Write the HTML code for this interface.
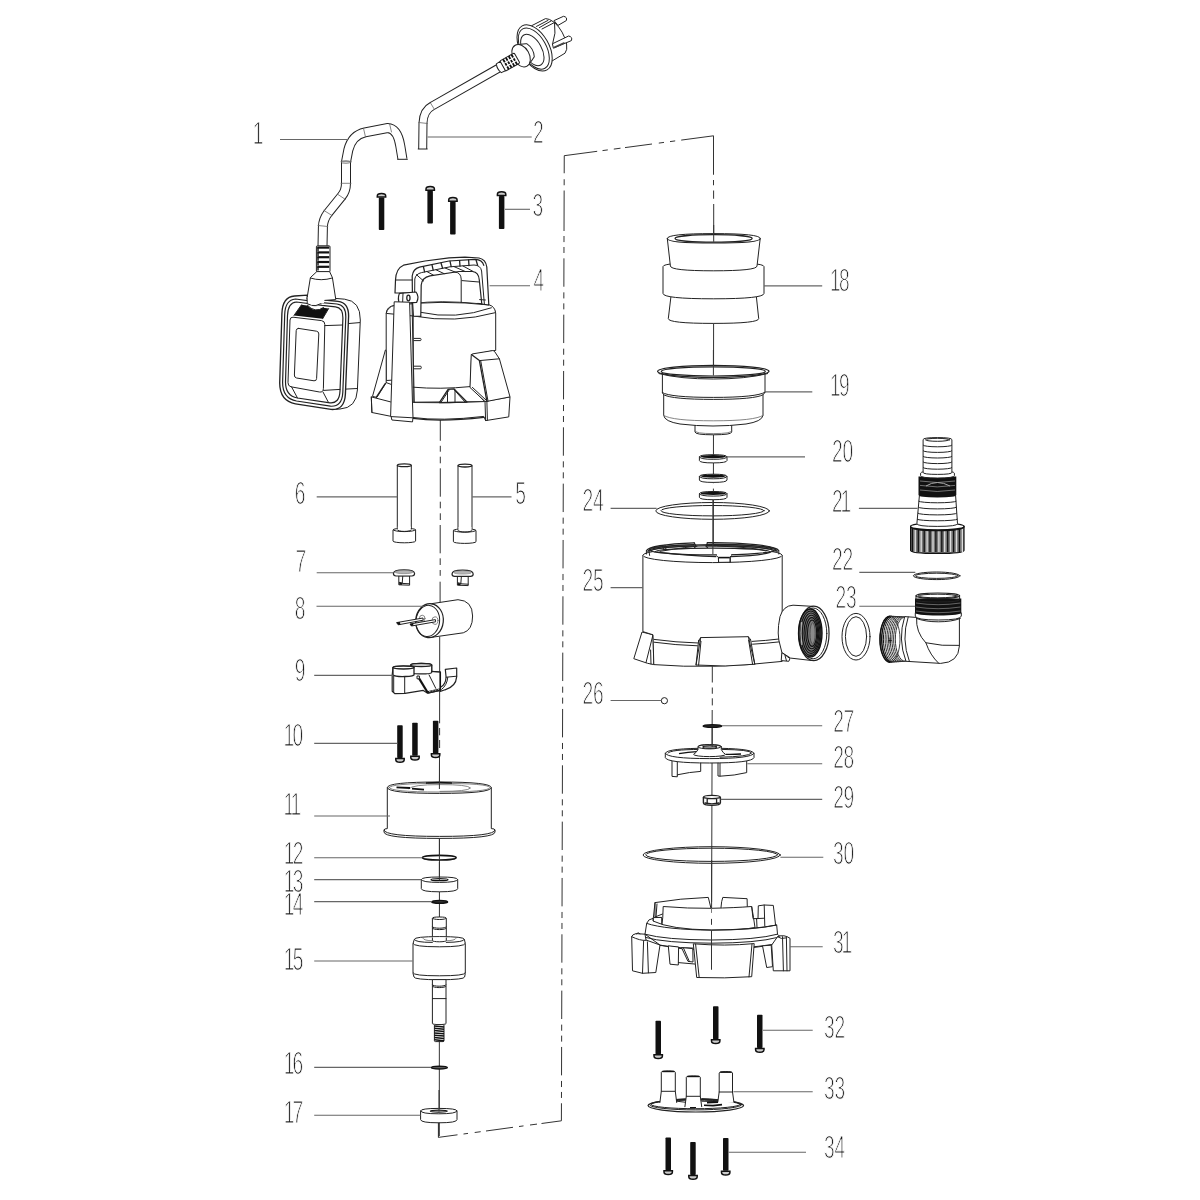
<!DOCTYPE html>
<html><head><meta charset="utf-8"><title>Exploded view</title>
<style>
html,body{margin:0;padding:0;background:#fff;}
body{width:1200px;height:1200px;overflow:hidden;font-family:"Liberation Sans",sans-serif;}
svg{display:block}
.l{fill:none;stroke:#222;stroke-width:1;stroke-linecap:round;stroke-linejoin:round}
.g{fill:none;stroke:#666;stroke-width:0.8;stroke-linecap:round;stroke-linejoin:round}
.w{fill:#fff;stroke:#222;stroke-width:1;stroke-linejoin:round}
.wn{fill:#fff;stroke:none}
.k{fill:#111;stroke:none}
.kk{fill:none;stroke:#111;stroke-width:2.2}
.hd{fill:#ccc;stroke:#111;stroke-width:1.5}
.ld{stroke:#666;stroke-width:1.1;fill:none}
.ax{stroke:#333;stroke-width:1;fill:none}
.dd{stroke:#444;stroke-width:1;fill:none;stroke-dasharray:36 5 5 5}
.t{font-family:"Liberation Sans",sans-serif;font-size:32px;fill:#1a1a1a;stroke:#fff;stroke-width:1.2px;text-rendering:geometricPrecision}
</style></head><body>
<svg width="1200" height="1200" viewBox="0 0 1200 1200">
<rect width="1200" height="1200" fill="#fff"/>
<g id="axes">
<path class="ax" d="M440.3,420 V440.8 M440.3,445.8 V451.7 M440.3,456.7 V463.3 M440.3,468.3 V496.7 M440.3,501.7 V508.3 M440.3,513.3 V520 M440.2,525 V553.3 M440.2,558.3 V565 M440.2,570 V575.8 M440.1,581.7 V604"/>
<path class="ax" d="M439.7,636.7 L439.6,723.3 M439.6,728 V735.3 M439.6,740 V748"/>
<path class="ax" d="M439.5,753.3 L439.3,1136"/>
<path class="ax" d="M438.3,1137.4 L457.5,1134.8 M463.5,1134.0 L468.0,1133.4 M474.7,1132.5 L480.7,1131.7 M486.0,1131.0 L513.0,1127.3 M519.0,1126.5 L523.5,1125.9 M530.0,1125.0 L537.0,1124.1 M541.5,1123.5 L561.4,1120.8"/>
<path class="ax" d="M438.4,1122 V1137.4"/>
<path class="ax" d="M564.25,155.7 L564.2,173.25 M564.18,179.25 L564.16,185.25 M564.15,190.5 L564.03,231"/>
<path class="ax" style="stroke-dasharray:6.1 4.9 6 5.33 28.4 5.6" d="M564.01,236 L561.4,1120.8"/>
<path class="ax" d="M564.2,155.7 L597.2,151.3 M602.5,150.6 L607.8,149.9 M613.8,149.1 L620.5,148.2 M625.0,147.6 L652.0,144.0 M658.8,143.1 L664.0,142.4 M670.0,141.6 L675.2,140.9 M681.2,140.1 L713.5,135.8"/>
<path class="ax" d="M713.5,135.75 V174.75 M713.5,180 V185.25 M713.6,190.5 V198.75 M713.7,204 V241"/>
<path class="ax" d="M713.6,320 L713.2,660"/>
<path class="ax" d="M712.3,660 V682.5 M712.3,687.5 V693.75 M712.3,698.3 V705.4"/>
<path d="M713.3,483.2 V488.6" stroke="#fff" stroke-width="2.4" fill="none"/>
<path class="ax" d="M712.2,710 L711.4,970"/>
</g>
<g id="p2">
<path d="M422.7,149 L423,123 Q423.4,110.5 432.5,105.8 L498,68.5" fill="none" stroke="#222" stroke-width="9"/>
<path d="M422.7,149.6 L423,123 Q423.4,110.5 432.5,105.8 L499,68" fill="none" stroke="#fff" stroke-width="7"/>
<path class="l" d="M418.2,149 H427.2"/>
<path class="g" d="M418.8,122.5 L427.4,123.5 M430.5,103 L434.5,109.5"/>
<path class="w" d="M554,20.6 L563.5,16.3 Q567.6,17 566.3,20.6 L558,25.4 Z"/>
<path class="w" d="M529,27 L534,24.5 L545.5,18.6 L549.4,19.4 L554.5,22.5 Q563.6,31 566.6,44 Q567.6,50 565,53.2 L553,60.4 L544,67 Z"/>
<path class="l" d="M542,29 L554.5,22.5 Q556.4,33 552.6,44 M536.5,26.4 L548,20.4 M539.4,27.6 L551,21"/>
<path class="w" d="M552.4,43.8 L568.6,36 Q572.8,36.8 571.4,40.6 L553.4,48.2 Z"/>
<path d="M554,47.6 L564.5,42.8" stroke="#444" stroke-width="1.6" fill="none"/>
<g transform="rotate(-29.5 534.6 47.9)">
<ellipse class="w" cx="534.6" cy="47.9" rx="14.3" ry="25.3"/>
<ellipse class="l" cx="533.6" cy="48.1" rx="12.4" ry="22.6"/>
<ellipse class="l" cx="531.6" cy="48.6" rx="9.3" ry="17.2"/>
<path class="w" d="M519,36.2 Q526,38 530,40.6 Q533.6,47.9 530,55.4 Q526,58 519,59.8 Z"/>
<ellipse class="w" cx="519" cy="48" rx="8.2" ry="12"/>
<rect class="w" x="497.6" y="42.2" width="16.8" height="11.6" rx="1.5"/>
<path d="M501.6,42.2V53.8 M504.8,42.2V53.8 M508,42.2V53.8 M511.2,42.2V53.8" stroke="#111" stroke-width="1.8" fill="none"/>
<path d="M500.2,46.2 H512.6 M500.2,50 H512.6" stroke="#fff" stroke-width="1.1"/>
<path class="w" d="M493.4,43 L498,42.6 L498,53.4 L493.4,53 Q491.2,48 493.4,43 Z"/>
</g>
</g>
<g id="p1">
<path d="M402.5,159.3 L400.3,146 Q397.5,128.5 387.5,128 L365,132.4 Q352,135.2 348.3,150 L346,162 L346,183 Q346,191 341.6,196.2 L328,213 Q323,219.5 322.9,227 L322.5,246.5" fill="none" stroke="#222" stroke-width="10"/>
<path d="M402.5,159.3 L400.3,146 Q397.5,128.5 387.5,128 L365,132.4 Q352,135.2 348.3,150 L346,162 L346,183 Q346,191 341.6,196.2 L328,213 Q323,219.5 322.9,227 L322.5,246.5" fill="none" stroke="#fff" stroke-width="8"/>
<rect class="wn" x="396" y="159.3" width="13" height="3"/>
<path class="l" d="M397.6,159.3 H407.4"/>
<path class="g" d="M363.5,128.3 L365.5,137 M389.5,123.5 L391.5,132 M341,161.7 H351 M341,183.3 H351 M338,194.5 L345.5,199.5 M324,210.5 L332,215.5 M318,225.5 L327.8,226.5"/>
<ellipse class="g" cx="346" cy="162" rx="4.8" ry="1.3"/>
<rect class="w" x="316.4" y="245.8" width="13.6" height="26.2" rx="1"/>
<path class="kk" d="M317.2,247.6 H329.2"/>
<path class="kk" style="stroke-width:1.4" d="M318,247.6 V251.2"/>
<path class="kk" d="M317.2,252.4 H329.2"/>
<path class="kk" style="stroke-width:1.4" d="M318,252.4 V256.0"/>
<path class="kk" d="M317.2,257.2 H329.2"/>
<path class="kk" style="stroke-width:1.4" d="M318,257.2 V260.8"/>
<path class="kk" d="M317.2,262 H329.2"/>
<path class="kk" style="stroke-width:1.4" d="M318,262 V265.6"/>
<path class="kk" d="M317.2,266.8 H329.2"/>
<path class="kk" style="stroke-width:1.4" d="M318,266.8 V270.40000000000003"/>
<path class="w" d="M324.7,299.5 L335.5,298.4 L344.7,299.2 Q360.5,301 360.3,320 L357.4,390 Q356.5,408 340,409 L332,409.5 Z"/>
<path class="l" d="M326.7,325.4 L359.6,322.6 M324.7,390.2 L357.3,388.5"/>
<path class="w" style="stroke-width:1.35" d="M294.5,296 L307.5,295.2 L307,299 L324.7,300 L338,301.3 Q348.7,302.5 348.6,316 L345.4,394 Q344.6,410.5 331,409.4 L295.5,403.8 Q279.8,401 279.7,383 L281.9,313.5 Q282.5,296.8 294.5,296 Z"/>
<path class="l" style="stroke-width:1.2" d="M295.5,299 L322,302.6 L337,304 Q346,305 345.8,317 L342.8,392.5 Q342,407 330.5,406.2 L296.5,401 Q282.6,398.4 282.6,382.5 L284.7,314.5 Q285.2,299.8 295.5,299 Z"/>
<path class="l" style="stroke-width:1.2" d="M296.5,302 L322,305.4 L335.5,306.8 Q343,307.6 342.9,318 L340,391 Q339.4,403.6 330,402.8 L297.5,398 Q285.4,395.8 285.5,382 L287.5,315.5 Q288,302.6 296.5,302 Z"/>
<path class="w" d="M316.8,271.6 H329.6 L332.4,277.6 L335.8,299.6 L324.6,300.4 Q316,309 307.2,303.6 L307.4,296 L310.4,277.6 Z"/>
<path class="l" d="M310.4,278 Q321,281.5 332.4,278"/>
<path class="wn" d="M307.6,297 L324.4,299.4 L324,303 L308,303 Z"/>
<path class="k" d="M301.5,304.8 L328.6,308.6 L322.6,318.8 L294,315.4 Z"/>
<path class="wn" d="M307.3,305.2 Q315,313.5 323.5,307.6 Z"/>
<path class="l" d="M307.3,305.2 Q315,313.5 323.5,307.6"/>
<path class="w" d="M293,317.2 L321.5,320.6 Q325,321.2 324.8,324.5 L323.4,388.5 Q323.2,392.6 319.5,392 L291,386.8 Q287.8,386 288,382.5 L290,320 Q290.2,317 293,317.2 Z"/>
<path class="l" d="M298.5,328.4 L316.5,331.2 Q319,331.7 318.8,334 L316.6,378.5 Q316.4,381.2 314,380.8 L296.6,378 Q294.2,377.5 294.4,375 L296.2,330.6 Q296.4,328.2 298.5,328.4 Z"/>
<path class="l" d="M324.8,325.6 L342.6,325 M323.6,390.4 L340,389.4"/>
<path class="l" d="M291.5,386.8 L297.5,398 M323,392 L328.5,402.5 M294,315.4 L301.5,304.8 M322.6,318.8 L328.6,308.6"/>
</g>
<g id="p3">
<path class="hd" d="M377.3,197.1 L377.3,195.9 Q377.3,193.4 381.5,193.4 Q385.7,193.4 385.7,195.9 L385.7,197.1 Z"/><rect class="k" x="378.8" y="197.6" width="5.5" height="32.4" rx="0.8"/>
<path class="hd" d="M426.0,190.3 L426.0,189.1 Q426.0,186.6 430.2,186.6 Q434.4,186.6 434.4,189.1 L434.4,190.3 Z"/><rect class="k" x="427.4" y="190.8" width="5.5" height="32.8" rx="0.8"/>
<path class="hd" d="M448.7,201.3 L448.7,200.1 Q448.7,197.6 452.9,197.6 Q457.1,197.6 457.1,200.1 L457.1,201.3 Z"/><rect class="k" x="450.1" y="201.8" width="5.5" height="32.8" rx="0.8"/>
<path class="hd" d="M497.4,195.5 L497.4,194.3 Q497.4,191.8 501.6,191.8 Q505.8,191.8 505.8,194.3 L505.8,195.5 Z"/><rect class="k" x="498.9" y="196.0" width="5.5" height="33.0" rx="0.8"/>
</g>
<g id="p4">
<path class="w" d="M386.2,313.5 Q386.5,306.5 394.5,305.5 L394.5,380 L386.2,380.5 Z"/>
<path class="w" d="M385.4,350 L386.2,350.5 L386.2,382.6 L376.9,397.4 L372.5,396.4 Z"/>
<path class="l" style="stroke-width:1.3" d="M385.2,383.6 L376.4,397.2"/>
<path class="l" d="M386.2,382.6 L391.2,384.4"/>
<path class="w" d="M371.3,396.9 L390.6,401.9 L413.6,402.5 Q450,403.6 485,401.4 L510,396.9 L508.75,416.9 L485.6,420.6 L483.8,416.4 Q441,421.4 413,417.5 L390.6,416.25 L371.9,412.5 Z"/>
<path class="l" style="stroke-width:1.3" d="M413,418.4 Q441,422.2 483.8,417.3"/>
<path class="w" d="M413.2,316 L413.2,402.2 L484.5,401.6 L470.3,386.6 L471.6,355 L493.5,350.6 L495.7,350.5 L495.7,313 Q495,305.5 478,303.6 Q440,300 413.2,303.5 Z"/>
<path class="w" d="M394.5,305.5 Q388,306.5 386.2,313.4 L413.4,316 Q455,323.7 495.6,312.6 Q494.6,306.4 489.5,305 Q440,299.5 394.5,305.5 Z"/>
<path class="l" d="M421,312.4 Q455,320.2 491.4,307.8"/>
<path class="l" d="M413.2,387.2 Q440,389.6 470.3,386.6"/>
<path class="w" style="stroke-width:1.3" d="M439.4,402.6 L448.1,389.4 L453.8,388.8 L466.9,402 Z"/>
<path class="l" d="M447.5,390.4 L447.5,402.6 M455,390.2 L455,402.4 M441,402.4 L449,390.2 M454.4,390 L465,402"/>
<path class="w" d="M471.2,355.6 Q471.4,354 473,353.8 L492.6,350.6 Q494.2,350.6 494.8,351.8 L499.4,358.8 L510,396.9 L486.9,401.4 L485,401.4 L470,387.5 Z"/>
<path class="l" style="stroke-width:1.3" d="M471.4,354.6 L479.4,360.6 L486.9,401.3"/>
<path class="l" d="M479.4,360.6 L499.4,358.8 M480.8,361.2 L488,401 M472.4,387.4 L486.4,400.4 M485,401.4 L485.6,420.6 M486.9,401.4 L487.4,420.2"/>
<path class="l" d="M414,338.4 H420.6 Q421.6,339.5 420.6,340.6 H414 M414,366.2 H420.8 Q421.8,367.5 420.8,368.8 H414"/>
<path class="w" style="stroke-width:1.2" d="M395,293 L395.5,280 Q396,268.4 403.5,265.2 L425,261 L449,257.8 L465,257.2 L479,258 Q485.8,259.4 486.8,267 L488.8,305 L481.8,304 L479.3,280 Q478.6,272 472.5,271.5 L459,271.5 L430,275.8 Q421.8,277.6 421.2,285 L420.8,316.4 L413.4,316 L412,293 Z"/>
<path class="l" style="stroke-width:1.2" d="M412.4,293 L412.2,276 Q413,269 419.5,267.2 L449,261 L475,259.4 Q482.4,259.6 483.8,265.4"/>
<path class="l" d="M414.6,300 L414.8,279 Q415.6,274 421.5,272.6 L450,266.8 L474,265 Q480.6,265.2 481.6,271 L484.4,304.4"/>
<path class="l" style="stroke-width:1.3" d="M423.4,266.6 L424.6,271.8 M432,264.8 L433.2,270.2 M441,263 L442.6,268.2 M450,261.2 L451.2,266.6 M459.6,260.6 L460,266.2 M468.6,260 L469,265.6 M476,259.8 L477.6,265.2"/>
<path class="l" d="M427,271.6 L433.5,275.2 M436,269.8 L444,273.6 M445,268 L455,272 M454,266.6 L465,271.4 M463,266 L473,271.4 M416.4,274.6 L423.6,281"/>
<path class="l" d="M395.5,280 H412.2"/>
<path class="l" d="M455,272 Q461,272.6 461.2,279 L461.2,302.6 M462,280.6 L479.2,282"/>
<path class="l" d="M478,303.4 L482,303.8 M479.6,299.6 L485.4,300"/>
<path class="w" style="stroke-width:1.2" d="M399.4,293.4 L416,292 Q419.6,296.5 416.6,302.4 L399.4,303.6 Q397.4,298.4 399.4,293.4 Z"/>
<ellipse class="l" style="stroke-width:1.3" cx="408.4" cy="298" rx="1.6" ry="2.8"/>
<path class="l" d="M403,293.2 L402.6,303.2"/>
<path class="w" d="M394.2,301.8 L409.6,302.2 L412.4,400 L413,417.5 L412.5,421.9 L391.9,420 L391.2,416.9 L390.6,416.2 Z"/>
<path class="l" d="M412,302.5 L414.3,402.4 M391.2,416.6 L412.8,417.8"/>
<path class="l" d="M371.3,396.9 L371.9,412.5"/>
</g>
<g id="p56">
<path class="w" d="M397.3,465.2 L397.3,529.6 L411.3,529.6 L411.3,465.2 Z"/><ellipse class="w" style="stroke-width:1.3" cx="404.3" cy="465.2" rx="7" ry="1.4"/><path class="w" d="M393,529.9 L393,541.1 A11.300000000000011,1.7 0 0 0 415.6,541.1 L415.6,529.9 A11.300000000000011,1.7 0 0 0 393,529.9 Z"/><path class="l" d="M393,529.9 A11.300000000000011,1.7 0 0 0 415.6,529.9"/><path class="wn" d="M397.8,526.6 H410.8 V530.2 H397.8 Z"/><path class="l" d="M397.3,530.0 A7,1.4 0 0 0 411.3,530.0"/>
<path class="w" d="M458,465.59999999999997 L458,530.2 L472,530.2 L472,465.59999999999997 Z"/><ellipse class="w" style="stroke-width:1.3" cx="465" cy="465.59999999999997" rx="7" ry="1.4"/><path class="w" d="M453.4,530.5 L453.4,541.7 A11.300000000000011,1.7 0 0 0 476,541.7 L476,530.5 A11.300000000000011,1.7 0 0 0 453.4,530.5 Z"/><path class="l" d="M453.4,530.5 A11.300000000000011,1.7 0 0 0 476,530.5"/><path class="wn" d="M458.5,527.2 H471.5 V530.8000000000001 H458.5 Z"/><path class="l" d="M458,530.6 A7,1.4 0 0 0 472,530.6"/>
</g>
<g id="p7">
<path class="w" d="M398.8,575.8 L398.8,584.8 L409.6,585.1999999999999 L409.6,575.8 Z"/><path class="l" d="M402.8,575.8 L402.2,583.4 L409.4,583.8 M399.4,582.4 L402.2,583.0"/><path class="k" d="M399.2,582.5999999999999 L402,583.0999999999999 L402,584.8 L399.2,584.6999999999999 Z"/><path class="w" style="stroke-width:1.2" d="M393.4,573.5999999999999 Q393.4,569.8 404,569.8 Q414.6,569.8 414.6,573.5999999999999 Q414.6,576.0 412,576.0 L396,576.0 Q393.4,576.0 393.4,573.5999999999999 Z"/><ellipse cx="404" cy="572.0" rx="9" ry="1.7" fill="#b5b5b5" stroke="#777" stroke-width="0.6"/>
<path class="w" d="M457.40000000000003,576.1999999999999 L457.40000000000003,585.1999999999999 L468.20000000000005,585.5999999999999 L468.20000000000005,576.1999999999999 Z"/><path class="l" d="M461.40000000000003,576.1999999999999 L460.8,583.8 L468.0,584.1999999999999 M458.0,582.8 L460.8,583.4"/><path class="k" d="M457.8,582.9999999999999 L460.6,583.4999999999999 L460.6,585.1999999999999 L457.8,585.0999999999999 Z"/><path class="w" style="stroke-width:1.2" d="M452.0,573.9999999999999 Q452.0,570.1999999999999 462.6,570.1999999999999 Q473.20000000000005,570.1999999999999 473.20000000000005,573.9999999999999 Q473.20000000000005,576.4 470.6,576.4 L454.6,576.4 Q452.0,576.4 452.0,573.9999999999999 Z"/><ellipse cx="462.6" cy="572.4" rx="9" ry="1.7" fill="#b5b5b5" stroke="#777" stroke-width="0.6"/>
</g>
<g id="p8">
<path class="w" d="M429.3,604 L458,599.7 Q472.5,600.5 472.6,616 Q472.6,630 463.3,632.8 L431,637.4 Z"/>
<ellipse class="w" style="stroke-width:1.2" cx="429.5" cy="620.7" rx="13.8" ry="17" transform="rotate(6 429.5 620.7)"/>
<ellipse class="l" cx="427.8" cy="620.9" rx="11.8" ry="15.6" transform="rotate(6 427.8 620.9)"/>
<ellipse class="g" cx="422.2" cy="618.4" rx="2.8" ry="3.2"/><ellipse class="g" cx="435" cy="620.6" rx="3" ry="3.8"/>
<path class="w" d="M396.6,622.6 L423,618 L423.2,620.2 L398.2,624.8 Z"/>
<path class="w" d="M410,624 L435.4,619.6 L435.6,621.8 L411.4,626 Z"/>
<path class="k" d="M396.6,622.6 L399.8,622 L400.5,624.4 L398.2,624.8 Z M410,624 L413,623.5 L413.6,625.6 L411.4,626 Z"/>
</g>
<g id="p9">
<path class="w" style="stroke-width:1.2" d="M445.3,669.3 L456.7,668 L456.7,676.6 Q456,686.6 445,689.8 L440.3,691.4 L440.3,687.6 Q445.6,684.6 446.1,677.2 Z"/>
<path class="l" d="M446.1,677.2 L456.7,676.2 M447.8,677.4 Q447,685.4 441.6,689.4"/>
<path class="w" style="stroke-width:1.2" d="M392.2,675 L392.2,691.3 L395,693.7 L405,693.3 L423.3,690.4 L427.7,693.2 L440.3,690.4 L440.3,672 L431.7,671.3 L431.7,665 L414,666 L393,667.4 Z"/>
<path class="l" d="M404.7,676.8 V693.3 M393.7,675.4 V691.6"/>
<path d="M440.3,671.8 V690.6" stroke="#111" stroke-width="1.5" fill="none"/>
<path d="M427.4,692.6 L440.6,689.6" stroke="#222" stroke-width="2.6" fill="none"/>
<path d="M429,691.6 L439,689.4" stroke="#bbb" stroke-width="0.8" fill="none" stroke-dasharray="1.6 1.4"/>
<path d="M418,676.6 L427.8,692.8" stroke="#111" stroke-width="2.2" fill="none"/>
<path class="l" d="M429,674.8 L435.8,688.4"/>
<rect class="w" x="417" y="676" width="2.4" height="2.8"/>
<path class="w" style="stroke-width:1.2" d="M410.7,665 L410.7,672 A10.5,1.6 0 0 0 431.7,672.6 L431.7,665 A10.5,1.6 0 0 0 410.7,665 Z"/>
<ellipse class="w" style="stroke-width:1.5" cx="421.2" cy="665" rx="10.5" ry="1.5"/>
<path class="l" style="stroke-width:1.2" d="M431.7,671.4 L440.3,672"/>
<path class="w" style="stroke-width:1.3" d="M393,667.5 L393,675 A10.5,1.8 0 0 0 414,674.4 L414,667.5 A10.5,1.4 0 0 0 393,667.5 Z"/>
<ellipse class="w" style="stroke-width:1.5" cx="403.5" cy="667.5" rx="10.5" ry="1.4"/>
</g>
<g id="p10">
<path class="hd" d="M395.8,758.5 L395.8,759.7 Q395.8,762.2 400.0,762.2 Q404.2,762.2 404.2,759.7 L404.2,758.5 Z"/><rect class="k" x="397.2" y="725.3" width="5.5" height="32.7" rx="0.8"/>
<path class="hd" d="M410.8,756.2 L410.8,757.4 Q410.8,759.9 415.0,759.9 Q419.2,759.9 419.2,757.4 L419.2,756.2 Z"/><rect class="k" x="412.2" y="722.7" width="5.5" height="33.0" rx="0.8"/>
<path class="hd" d="M431.4,753.8 L431.4,755.0 Q431.4,757.5 435.6,757.5 Q439.8,757.5 439.8,755.0 L439.8,753.8 Z"/><rect class="k" x="432.9" y="720.7" width="5.5" height="32.6" rx="0.8"/>
</g>
<g id="p11">
<path class="w" d="M384,830.2 Q384,828.6 387.3,828.6 L387.3,787.7 Q387.3,782 439.3,782 Q491.3,782 491.3,787.7 L491.3,828.6 Q495,828.6 495,830.2 L495,832 Q495,838.4 439.5,838.4 Q384,838.4 384,832 Z"/>
<path class="l" d="M387.3,787.7 Q387.3,793.4 439.3,793.4 Q491.3,793.4 491.3,787.7"/>
<path class="l" d="M384,830.2 Q384,836.4 439.5,836.4 Q495,836.4 495,830.2"/>
<path class="g" d="M389.2,787.6 Q390,783.4 439.3,783.4 Q489,783.4 489.6,787.6 Q489,792 439.3,792 Q390,792 389.2,787.6 Z"/>
<path class="g" d="M409,788.6 Q412,784.6 440,784.6 Q468,784.6 470.5,788 Q468,791.4 440,791.4"/>
<path class="kk" style="stroke-width:1.8" d="M396.5,787.4 L410,788 M412,788.6 L424,789.6"/>
<path class="kk" style="stroke-width:1.4" d="M426,783 Q439,782 452,783"/>
<path class="ax" d="M439.5,760 L439.4,789"/>
</g>
<ellipse class="kk" style="stroke-width:1.6;fill:#fff" cx="439.3" cy="857.7" rx="16.8" ry="2.3"/>
<path class="ax" d="M439.4,838 V859.6"/>
<g id="p13">
<path class="w" d="M421.3,879.6 L421.3,888.6 Q421.3,891.8 439.5,891.8 Q457.7,891.8 457.7,888.6 L457.7,879.6 Q457.7,877 439.5,877 Q421.3,877 421.3,879.6 Z"/>
<path class="l" d="M421.3,879.6 Q421.3,882.4 439.5,882.4 Q457.7,882.4 457.7,879.6"/>
<ellipse class="kk" style="stroke-width:1.3" cx="439.5" cy="879.7" rx="8.5" ry="1"/>
<path class="ax" d="M439.4,862 V880"/>
</g>
<ellipse class="kk" style="stroke-width:1.7;fill:#555" cx="439.7" cy="901.9" rx="7.8" ry="1.3"/>
<g id="p15">
<path class="w" d="M432.4,918.2 Q432.4,917 439.4,917 Q446.3,917 446.3,918.2 L446.3,940.5 L432.4,940.5 Z"/>
<path class="l" d="M432.4,918.4 A6.95,1.1 0 0 0 446.3,918.4 M432.4,928.4 A6.95,1.2 0 0 0 446.3,928.4 M432.4,927 A6.95,1.2 0 0 0 446.3,927"/>
<path class="w" d="M414.3,939.4 Q414.3,936.6 439.4,936.6 Q464.4,936.6 464.4,939.4 L465.3,943.6 L465.3,973.4 L464.6,977 Q464.6,979.6 439.4,979.8 Q414,979.6 414,977 L413,973.4 L413,943.6 Z"/>
<path class="l" d="M414.3,939.4 Q414.3,942.4 432.4,942.4 M446.3,942.4 Q464.4,942.2 464.4,939.4"/>
<path class="l" d="M413,943.6 Q413,946.8 439.4,946.8 Q465.3,946.8 465.3,943.6 M413,973 Q413,975.8 439.4,975.8 Q465.3,975.8 465.3,973"/>
<path class="g" d="M423,938.5 Q424,940.6 432.4,940.8 M446.3,940.8 Q455,940.6 456,938.5"/>
<path class="w" d="M432.4,937.5 L432.4,940.6 A6.95,1.2 0 0 0 446.3,940.6 L446.3,937.5"/>
<path class="w" d="M432.4,979.6 L432.4,1023.6 A6.8,1 0 0 0 446,1023.6 L446,979.6 Z"/>
<path class="l" d="M432.4,985 A6.8,1.2 0 0 0 446,985 M432.4,986.4 A6.8,1.2 0 0 0 446,986.4 M432.4,998.6 H446"/>
<rect class="w" x="434.4" y="1024.6" width="9.6" height="17" rx="1"/>
<path class="kk" style="stroke-width:1.5" d="M434.4,1026.0 L444,1026.9"/>
<path class="kk" style="stroke-width:1.5" d="M434.4,1028.3 L444,1029.2"/>
<path class="kk" style="stroke-width:1.5" d="M434.4,1030.6 L444,1031.5"/>
<path class="kk" style="stroke-width:1.5" d="M434.4,1032.9 L444,1033.8"/>
<path class="kk" style="stroke-width:1.5" d="M434.4,1035.2 L444,1036.1"/>
<path class="kk" style="stroke-width:1.5" d="M434.4,1037.5 L444,1038.4"/>
<path class="kk" style="stroke-width:1.5" d="M434.4,1039.8 L444,1040.7"/>
</g>
<ellipse class="kk" style="stroke-width:1.5;fill:#666" cx="439.3" cy="1067.6" rx="8" ry="1.3"/>
<g id="p17">
<path class="w" d="M420.6,1111 L420.6,1119.6 Q420.6,1122.8 438.8,1122.8 Q457,1122.8 457,1119.6 L457,1111 Q457,1108.4 438.8,1108.4 Q420.6,1108.4 420.6,1111 Z"/>
<path class="l" d="M420.6,1111 Q420.6,1113.8 438.8,1113.8 Q457,1113.8 457,1111"/>
<ellipse class="kk" style="stroke-width:1.2" cx="438.8" cy="1111.1" rx="8.5" ry="1"/>
<path class="ax" d="M439,1090 V1111.5 M438.6,1122.8 V1136.5"/>
</g>
<g id="p18">
<path class="w" d="M671,296 L668.3,318.6 Q668.3,323.4 713.3,323.4 Q758.7,323.4 758.7,318.6 L756.3,296 Z"/>
<path class="w" d="M663,266.6 L663,293.4 Q663,298.8 713.3,298.8 Q764,298.8 764,293.4 L764,266.6 Q764,262.4 713.3,262.4 Q663,262.4 663,266.6 Z"/>
<path class="w" d="M667.3,238.6 L670.4,266 Q670.4,270.8 713.3,270.8 Q757,270.8 757,266 L760.2,238.6 Q760.2,233.6 713.6,233.6 Q667.3,233.6 667.3,238.6 Z"/>
<path class="l" style="stroke-width:1.2" d="M667.3,238.4 Q667.3,243 713.6,243 Q760.2,243 760.2,238.4"/>
<ellipse class="l" style="stroke-width:1.2" cx="713.6" cy="238.4" rx="38.6" ry="3.7"/>
<path class="ax" d="M713.7,225 V241.8"/>
</g>
<g id="p19">
<path class="w" d="M695,424 L695,432 Q695,434.8 713.3,434.8 Q731.7,434.8 731.7,432 L731.7,424 Z"/>
<path class="g" d="M695,431 Q695,433.6 713.3,433.6 Q731.7,433.6 731.7,431"/>
<path class="w" d="M662.4,372 L662.4,392.8 L663.7,394.8 L663.7,415.4 Q664.5,421.5 680,424 Q713,428 746,424 Q762,421.5 763,415.4 L763,394.8 L765,392.4 L765,372 Z"/>
<path class="l" d="M662.4,392.6 Q670,397.4 713.3,397.4 Q757,397.4 765,392.2 M663.7,394.8 Q672,399.4 713.3,399.4 Q755,399.4 763,394.8"/>
<path class="g" d="M663.7,415.4 Q672,420.8 713.3,420.8 Q755,420.8 763,415.4"/>
<ellipse class="w" style="stroke-width:1.3" cx="713.3" cy="371.3" rx="55.7" ry="6"/>
<ellipse class="l" style="stroke-width:1.2" cx="713.3" cy="371.4" rx="52" ry="4.6"/>
<path class="l" d="M659,373.6 Q680,379 713.3,379 Q746,379 767.6,373.6"/>
<path class="ax" d="M713.4,350 V375.6"/>
</g>
<g id="p20">
<path class="w" d="M699.4000000000001,456.90000000000003 L699.4000000000001,460.5 Q699.4000000000001,462.90000000000003 713.2,462.90000000000003 Q727.0,462.90000000000003 727.0,460.5 L727.0,456.90000000000003 Q727.0,454.7 713.2,454.7 Q699.4000000000001,454.7 699.4000000000001,456.90000000000003 Z"/><path class="l" d="M699.4000000000001,456.90000000000003 Q699.4000000000001,459.3 713.2,459.3 Q727.0,459.3 727.0,456.90000000000003"/><ellipse class="k" cx="713.2" cy="456.6" rx="12.6" ry="1.6"/>
<path class="w" d="M699.4000000000001,476.40000000000003 L699.4000000000001,480.0 Q699.4000000000001,482.40000000000003 713.2,482.40000000000003 Q727.0,482.40000000000003 727.0,480.0 L727.0,476.40000000000003 Q727.0,474.2 713.2,474.2 Q699.4000000000001,474.2 699.4000000000001,476.40000000000003 Z"/><path class="l" d="M699.4000000000001,476.40000000000003 Q699.4000000000001,478.8 713.2,478.8 Q727.0,478.8 727.0,476.40000000000003"/><ellipse class="k" cx="713.2" cy="476.1" rx="12.6" ry="1.6"/>
<path class="w" d="M699.4000000000001,493.70000000000005 L699.4000000000001,497.3 Q699.4000000000001,499.70000000000005 713.2,499.70000000000005 Q727.0,499.70000000000005 727.0,497.3 L727.0,493.70000000000005 Q727.0,491.5 713.2,491.5 Q699.4000000000001,491.5 699.4000000000001,493.70000000000005 Z"/><path class="l" d="M699.4000000000001,493.70000000000005 Q699.4000000000001,496.1 713.2,496.1 Q727.0,496.1 727.0,493.70000000000005"/><ellipse class="k" cx="713.2" cy="493.40000000000003" rx="12.6" ry="1.6"/>
</g>
<g id="p24">
<ellipse class="l" cx="712.6" cy="510.9" rx="56.8" ry="8.4"/>
<ellipse class="l" cx="712.6" cy="510.7" rx="51.6" ry="5.2"/>
</g>
<g id="p25">
<path class="w" d="M642,632 L653,634.8 L653.8,664.6 L647.5,663.3 L633.8,658.7 Z"/>
<path class="l" d="M653,634.8 L646,662.6 M650.6,650 L651,664"/>
<path class="w" d="M642.9,555.3 L642.9,631.6 L653,634.8 L653.8,664.6 Q712,669.4 782.2,661.4 L782.2,555.3 L642.9,555.3 Z"/>
<path class="l" d="M654,639.4 Q676,642.4 698,643 M752,641.4 Q766,640.6 779,639 M654,642.2 Q676,645.2 697.4,645.8 M752.6,644.2 Q766,643.4 780,641.8"/>
<path class="w" d="M700.7,637.6 L748.3,636.7 L754.8,664.2 Q725,667.4 696,665 Z"/>
<path class="l" d="M700.7,637.6 L698.6,640.6 L696,665 M698.6,640.6 L701,641 L698.6,665.2 M748.3,636.7 L750.6,639.6 L754.8,664.2 M750.6,639.6 L748.6,640 L752.6,664.4"/>
<ellipse class="w" cx="712.55" cy="555.3" rx="69.65" ry="7.3"/>
<ellipse class="w" style="stroke-width:1.2" cx="712.6" cy="549.7" rx="63.4" ry="5.2"/>
<path class="l" style="stroke-width:1.3" d="M651.4,551 A61.2,5.4 0 0 1 773.8,551"/>
<path class="l" style="stroke-width:1.2" d="M655,552 A57.6,3.9 0 0 1 770.2,552"/>
<path class="l" d="M660,551.4 Q690,546.4 697,546.2 M706,546 Q750,546.4 766,551"/>
<path class="l" style="stroke-width:1.3" d="M657,552.2 Q690,556.2 716,556.6 M731,556.6 Q760,555.6 770,552.4"/>
<path class="l" style="stroke-width:1.3" d="M646.5,550.5 A66.3,8.6 0 0 1 694.2,542.9"/>
<path class="l" style="stroke-width:1.1" d="M647.6,551.2 A65.2,7.6 0 0 1 694.2,544.5"/>
<path class="l" style="stroke-width:1.0" d="M648.6,551.5 A64.2,6.4 0 0 1 694.2,545.9"/>
<path class="l" style="stroke-width:1.3" d="M707.4,542.6 A66.3,8.6 0 0 1 778.7,550.5"/>
<path class="l" style="stroke-width:1.1" d="M707.4,544.2 A65.2,7.6 0 0 1 777.6,551.2"/>
<path class="l" style="stroke-width:1.0" d="M707.4,545.6 A64.2,6.4 0 0 1 776.6,551.5"/>
<path class="l" style="stroke-width:1.2" d="M694.2,542.8 L696,546.2 L694.6,547.6 M707.4,542.6 L706.2,546.4 L707.6,547.4"/>
<path class="l" d="M662.6,545.6 L663.6,549.8 L666,549.4 L665,545.2 M770,546.8 L771.4,550 M646.4,551.2 L646.4,554 M778.8,551.2 L778.8,554 M649,551 L649.6,555.4"/>
<path class="w" d="M716.4,554.9 L718.4,557.4 L718.6,562.4 L730.2,562.2 L730.2,557.2 L731.6,554.8 Z"/>
<path class="wn" d="M716.8,554 H731.2 V556 H716.8 Z"/>
<path d="M719,557.6 H729.8" stroke="#111" stroke-width="1.6" fill="none"/>
<path class="l" d="M718.4,557.4 L718.6,562.4 M730.2,557.2 V562.2"/>
<path class="w" d="M781.9,652.5 L790,658.6 L788.8,661.3 L781.2,660.6 Z"/>
<path class="l" d="M785,655.4 L786.4,660.6"/>
<path class="w" d="M813.4,606.4 L793,605.2 Q783.4,605.6 780,616.6 Q778,626 778.2,633 L778.8,640 L781.9,652.5 L790.6,658.1 L812.5,660.6 Z"/>
<ellipse class="w" style="stroke-width:1.2" cx="813.75" cy="633.4" rx="15.3" ry="27.2"/>
<ellipse class="l" cx="813.1" cy="633.4" rx="13.7" ry="25.4"/>
<ellipse cx="810.4" cy="633" rx="11.6" ry="24" fill="#7a7a7a" stroke="#111" stroke-width="1.4"/>
<ellipse cx="810.70" cy="633.2" rx="10.2" ry="22.2" fill="none" stroke="#111" stroke-width="1.1"/>
<ellipse cx="811.05" cy="633.2" rx="8.8" ry="20.2" fill="none" stroke="#111" stroke-width="1.1"/>
<ellipse cx="811.40" cy="633.2" rx="7.4" ry="18" fill="none" stroke="#111" stroke-width="1.1"/>
<ellipse cx="811.75" cy="633.2" rx="6" ry="15.6" fill="none" stroke="#111" stroke-width="1.1"/>
<ellipse cx="812.10" cy="633.2" rx="4.6" ry="13.2" fill="none" stroke="#111" stroke-width="1.1"/>
<ellipse cx="812.6" cy="633.4" rx="2.6" ry="10.6" fill="#8a8a8a" stroke="#444" stroke-width="0.8"/>
<path d="M801.6,622 Q800,633 801.8,645" stroke="#ccc" stroke-width="0.9" fill="none"/>
<path class="ax" d="M712.9,500 V554"/>
</g>
<g id="p21">
<path d="M910.6,526.4 L910.6,550.4 Q910.6,553.4 937.3,553.4 Q964,553.4 964,550.4 L964,526.4 Z" fill="#777" stroke="#111" stroke-width="1.2"/>
<path d="M912.4,528.6 V552" stroke="#111" stroke-width="1.3" fill="none"/>
<path d="M915.3,528.6 V552" stroke="#ddd" stroke-width="1.3" fill="none"/>
<path d="M918.3,528.6 V552" stroke="#111" stroke-width="1.3" fill="none"/>
<path d="M921.2,528.6 V552" stroke="#ddd" stroke-width="1.3" fill="none"/>
<path d="M924.2,528.6 V552" stroke="#111" stroke-width="1.3" fill="none"/>
<path d="M927.1,528.6 V552" stroke="#ddd" stroke-width="1.3" fill="none"/>
<path d="M930.0,528.6 V552" stroke="#111" stroke-width="1.3" fill="none"/>
<path d="M933.0,528.6 V552" stroke="#ddd" stroke-width="1.3" fill="none"/>
<path d="M935.9,528.6 V552" stroke="#111" stroke-width="1.3" fill="none"/>
<path d="M938.9,528.6 V552" stroke="#ddd" stroke-width="1.3" fill="none"/>
<path d="M941.8,528.6 V552" stroke="#111" stroke-width="1.3" fill="none"/>
<path d="M944.7,528.6 V552" stroke="#ddd" stroke-width="1.3" fill="none"/>
<path d="M947.7,528.6 V552" stroke="#111" stroke-width="1.3" fill="none"/>
<path d="M950.6,528.6 V552" stroke="#ddd" stroke-width="1.3" fill="none"/>
<path d="M953.6,528.6 V552" stroke="#111" stroke-width="1.3" fill="none"/>
<path d="M956.5,528.6 V552" stroke="#ddd" stroke-width="1.3" fill="none"/>
<path d="M959.4,528.6 V552" stroke="#111" stroke-width="1.3" fill="none"/>
<path d="M962.4,528.6 V552" stroke="#ddd" stroke-width="1.3" fill="none"/>
<ellipse cx="937.3" cy="526.4" rx="26.7" ry="3.4" fill="#fff" stroke="#111" stroke-width="1.2"/>
<path d="M910.6,526.4 Q910.6,530.6 937.3,530.6 Q964,530.6 964,526.4" fill="none" stroke="#111" stroke-width="1.2"/>
<path class="w" d="M919.4,495.6 L916.9,523.6 Q916.9,526.4 937.2,526.4 Q957.5,526.4 957.5,523.6 L955.6,495.6 Z"/>
<path class="l" d="M918.9,501.4 A18.6,1.5 0 0 0 956.0,501.4"/>
<path class="l" d="M918.3,507.4 A19.0,1.5 0 0 0 956.4,507.4"/>
<path class="l" d="M917.8,513.4 A19.5,1.5 0 0 0 956.8,513.4"/>
<path class="l" d="M917.3,519.4 A20.0,1.5 0 0 0 957.2,519.4"/>
<path class="k" d="M918.5,476.4 L918.5,495 Q918.5,497.4 937.4,497.4 Q956.3,497.4 956.3,495 L956.3,476.4 Z"/>
<path d="M920,481 Q937,484 955,481 M920,485.4 Q937,488.4 955,485.4 M920,490 Q937,493 955,490" stroke="#999" stroke-width="0.7" fill="none"/>
<path d="M926,486 Q937,479 950,486" stroke="#aaa" stroke-width="1" fill="none"/>
<path class="w" d="M920.6,473.2 L920.6,475.6 Q920.6,478 937.5,478 Q954.4,478 954.4,475.6 L954.4,473.2 Q954.4,471 937.5,471 Q920.6,471 920.6,473.2 Z"/>
<path class="w" d="M923.1,439.6 L923.1,472.4 Q923.1,474.4 937.5,474.4 Q951.9,474.4 951.9,472.4 L951.9,439.6 Q951.9,437.6 937.5,437.6 Q923.1,437.6 923.1,439.6 Z"/>
<ellipse class="l" cx="937.5" cy="439.8" rx="12" ry="1.5"/>
<path class="l" d="M923.1,445.4 A14.4,1.4 0 0 0 951.9,445.4"/>
<path class="l" d="M923.1,451 A14.4,1.4 0 0 0 951.9,451"/>
<path class="l" d="M923.1,456.6 A14.4,1.4 0 0 0 951.9,456.6"/>
<path class="l" d="M923.1,462.2 A14.4,1.4 0 0 0 951.9,462.2"/>
<path class="l" d="M923.1,467.8 A14.4,1.4 0 0 0 951.9,467.8"/>
</g>
<ellipse class="l" cx="936.7" cy="575.8" rx="23.3" ry="3.8"/>
<ellipse class="l" cx="936.7" cy="575.8" rx="21.3" ry="2.6"/>
<ellipse class="l" cx="856" cy="636.7" rx="14" ry="23.3"/>
<ellipse class="l" cx="856" cy="636.5" rx="10.6" ry="19.8"/>
<g id="p23">
<path class="w" d="M890,616.2 L906,617 L906,661.2 L890,662.2 A10,23 0 0 1 890,616.2 Z"/>
<path d="M890.0,616.20 A10,23.00 0 0 0 890.0,662.20" fill="none" stroke="#111" stroke-width="1.5"/>
<path d="M891.7,616.28 A10,22.91 0 0 0 891.7,662.10" fill="none" stroke="#111" stroke-width="1.5"/>
<path d="M893.4,616.36 A10,22.82 0 0 0 893.4,662.00" fill="none" stroke="#111" stroke-width="1.0"/>
<path d="M895.1,616.44 A10,22.73 0 0 0 895.1,661.90" fill="none" stroke="#333" stroke-width="1.0"/>
<path d="M896.8,616.52 A10,22.64 0 0 0 896.8,661.80" fill="none" stroke="#333" stroke-width="1.0"/>
<path d="M898.5,616.60 A10,22.55 0 0 0 898.5,661.70" fill="none" stroke="#333" stroke-width="1.0"/>
<path d="M900.2,616.68 A10,22.46 0 0 0 900.2,661.60" fill="none" stroke="#333" stroke-width="1.0"/>
<path d="M901.9,616.76 A10,22.37 0 0 0 901.9,661.50" fill="none" stroke="#333" stroke-width="1.0"/>
<path d="M903.6,616.84 A10,22.28 0 0 0 903.6,661.40" fill="none" stroke="#333" stroke-width="1.0"/>
<path d="M905.3,616.92 A10,22.19 0 0 0 905.3,661.30" fill="none" stroke="#333" stroke-width="1.0"/>
<path d="M890,616.2 A10,23 0 0 1 890,662.2" fill="none" stroke="#333" stroke-width="0.9"/>
<path d="M888.4,640.6 h3.4 M890,637.6 v6" stroke="#111" stroke-width="0.9"/>
<path class="w" d="M904.7,616.6 L916,617.4 L916,618 L959.4,618 L959.4,646 Q958.6,662.6 940.7,663.4 L906,661.3 Q897.5,639 904.7,616.6 Z"/>
<path class="l" d="M908.2,617 Q901,639 909.4,661.4 M916.6,618 Q915.6,632 926,643 Q930,655 938.6,663.2 M926,642.8 Q942,646.4 958.8,645.4"/>
<path class="w" d="M915.3,612.8 L915.3,616 Q915.3,620 938.3,620 Q961.3,620 961.3,616 L961.3,612.8 Z"/>
<path class="l" d="M916.4,618.4 Q925,621.8 938.3,621.8 Q952,621.8 960.4,618.4"/>
<path class="k" d="M915,598.4 L915,612.6 Q915,615.6 938.2,615.6 Q961.3,615.6 961.3,612.6 L961.3,598.4 Z"/>
<path d="M916,603 Q938,606.4 960.4,603 M916,607 Q938,610.4 960.4,607 M916,611 Q938,614.4 960.4,611" stroke="#888" stroke-width="0.7" fill="none"/>
<ellipse class="w" style="stroke-width:1.2" cx="937.8" cy="595.8" rx="21.8" ry="2.8"/>
<ellipse class="l" cx="937.8" cy="596" rx="19.6" ry="1.8"/>
<path class="l" d="M916,596 L916,599.6 Q916,602 937.8,602 Q959.6,602 959.6,599.6 L959.6,596"/>
</g>
<circle class="w" cx="664.4" cy="700.7" r="3.1"/>
<ellipse class="kk" style="stroke-width:1.6;fill:#333" cx="712.4" cy="726" rx="9.2" ry="1.3"/>
<g id="p28">
<path class="w" d="M672,757 L672,776.4 L677.3,776.8 L677.3,774.8 Q690,772 700.7,771.4 L700.7,760 Z"/>
<path class="l" d="M677.3,760 V775"/>
<path class="w" d="M718,760 L718,776 L720,776.2 Q735,775.6 746.7,772.6 L746.7,758 Z"/>
<path class="l" d="M720,762 V776"/>
<path class="w" d="M665.3,753.3 L665.3,757.6 Q667,763 709.6,763 Q752,763 754,757.6 L754,753.3 Q752,748.2 709.6,748.2 Q667,748.2 665.3,753.3 Z"/>
<path class="l" d="M665.3,753.3 Q667,758.6 709.6,758.6 Q752,758.6 754,753.3"/>
<path class="l" d="M668,753 Q670,749.6 700,749.4 M722,749.4 Q750,749.8 751.6,753 Q749,756.6 720,757.2"/>
<path class="kk" style="stroke-width:1.3" d="M679,753.6 Q688,752 697,751.6 M726,754.4 Q734,754.6 741,754"/>
<path class="w" d="M698,746.6 L698,749.6 Q696,753 693.6,754.4 A16,2.2 0 0 0 725.6,754.4 Q723,753 721.3,749.6 L721.3,746.6 Q721.3,744.6 709.6,744.6 Q698,744.6 698,746.6 Z"/>
<ellipse class="l" cx="709.6" cy="746.8" rx="11.6" ry="2.1"/>
<ellipse class="kk" style="stroke-width:1.1" cx="709.8" cy="747" rx="7" ry="1.1"/>
<path class="ax" d="M712.2,728 V747"/>
</g>
<g id="p29">
<path class="w" style="stroke-width:1.4" d="M703.4,797.4 Q703.4,795.4 711.8,795.4 Q720.4,795.4 720.4,797.4 L720.4,802.8 Q720.4,805.4 711.8,805.4 Q703.4,805.4 703.4,802.8 Z"/>
<path class="l" style="stroke-width:1.3" d="M703.4,797.6 Q711.8,799.8 720.4,797.6 M707.2,798.6 V803.8 M716.6,798.6 V803.8 M705,803 Q711.8,804.6 719,803"/>
</g>
<ellipse class="l" cx="711.7" cy="855" rx="68.7" ry="8.3"/>
<ellipse class="l" cx="711.7" cy="854.8" rx="66" ry="6.6"/>
<g id="p31">
<path class="w" d="M655,902.6 Q680,898.4 708.3,897.4 L710.9,908 L710.9,914 L662.5,914 L655,917 Z"/>
<path class="w" d="M722.8,897.4 L747.1,898.7 L747.3,907 L747.3,913 L721,913 L721,907.4 Q721.4,901 722.8,897.4 Z"/>
<path class="l" d="M655,902.6 L653.4,917.6 M657,904 L656,917 M653.4,917.6 H661.8"/>
<path class="w" d="M758.3,905.8 L764.2,905 L773.3,905.4 L775.8,927 L757,927.6 L756.6,918.6 L758,918.4 Z"/>
<path class="l" d="M764.2,905 L764.8,926 M757,918.6 L764.4,918.2"/>
<path class="w" d="M663.2,906.5 Q688,908.6 711,908.3 Q735,907.8 751.7,906.5 L753.5,917.5 L755,927.6 Q711,936 661.7,926.8 L662.75,917.5 Z"/>
<path class="l" d="M751.7,906.8 L753,918.6 L756.6,918.6"/>
<path class="w" d="M653.3,917.6 L661.7,917.4 L661.7,927 L653,927 Z"/>
<path class="w" d="M646.7,923.4 Q648,919 653,918.4 L653,921 Q670,929.4 711.7,930 Q752,929.8 776.7,925 L777.5,934.2 Q777.5,936 782.5,936.7 L771.7,945 Q740,950 711.7,950.2 Q680,950 660,945 L645,934.2 Z"/>
<path class="l" d="M646.7,923.4 Q665,929.6 711.7,930.2 Q755,930 776.7,925 M645,934.2 Q665,939.8 711.7,940 Q757,939.8 777.5,934.2 M645.4,937.4 Q665,943 711.7,943.2 Q757,943 777.6,937.4 M652,944.6 Q680,948.6 711.7,948.8 Q745,948.6 771.7,944.6"/>
<path class="w" d="M631.7,936.7 Q632,934.6 636,933.6 L645,934.2 L646,940 L660,945 L655.8,972.5 L642.5,973.3 L632.5,970.8 Z"/>
<path class="l" d="M631.7,936.7 Q640,940.8 646,940.4 M643.6,941 L642.5,973.3 M647.4,941.8 L648.4,972.8 M636.5,933.8 Q638,931.4 640,933.8"/>
<path class="w" d="M771.7,945 L777.5,936.8 Q784,934 790,938.3 L790,970.8 L773.3,970.8 Z"/>
<path class="l" d="M782.5,936.7 L783.4,970.8 M786.4,937.4 L787,970.8 M777.5,936.8 Q781,939.6 786,938"/>
<path class="w" d="M668.3,945.8 L670,964.2 L678.3,965 L678.6,947 Z"/>
<path class="w" d="M681.5,947.6 L688,961.4 L693,962 L692.8,948.6 Z"/>
<path class="l" d="M683.4,947.8 L689.4,961.6 M678.4,962.6 L694.6,964"/>
<path class="w" d="M762.5,945.8 L766.7,967.5 L772.5,966.7 L771.2,945.2 Z"/>
<path class="w" d="M693.3,943.8 L696.7,977.5 Q725,978.6 751.7,976.7 L754.2,943.6 Q725,946.4 693.3,943.8 Z"/>
<path class="l" d="M695.6,944.2 L699.2,977.6 M752,944 L749,976.9"/>
<path class="ax" d="M711.6,860 V901.9 M711.5,918.9 V924.8 M711.5,930.3 V969.75"/>
<path class="ax" style="stroke:#777" d="M711.5,908.3 V912.9"/>
</g>
<g id="p32">
<path class="hd" d="M654.0,1054.7 L654.0,1055.9 Q654.0,1058.4 658.2,1058.4 Q662.4,1058.4 662.4,1055.9 L662.4,1054.7 Z"/><rect class="k" x="655.5" y="1020.8" width="5.5" height="33.4" rx="0.8"/>
<path class="hd" d="M711.5,1039.7 L711.5,1040.9 Q711.5,1043.4 715.7,1043.4 Q719.9,1043.4 719.9,1040.9 L719.9,1039.7 Z"/><rect class="k" x="713.0" y="1006.3" width="5.5" height="32.9" rx="0.8"/>
<path class="hd" d="M755.6,1048.5 L755.6,1049.7 Q755.6,1052.2 759.8,1052.2 Q764.0,1052.2 764.0,1049.7 L764.0,1048.5 Z"/><rect class="k" x="757.0" y="1014.7" width="5.5" height="33.3" rx="0.8"/>
</g>
<g id="p33">
<ellipse class="w" style="stroke-width:1.2" cx="695.8" cy="1105.6" rx="47.8" ry="6.4"/>
<ellipse class="l" cx="695.8" cy="1104.7" rx="46.2" ry="5.2"/>
<ellipse class="l" cx="695.8" cy="1104.4" rx="44.6" ry="4.3"/>
<path class="wn" d="M661.3,1072.3 L661.3,1091.3 L659.9,1103.3 L676.6999999999999,1103.3 L675.3,1091.3 L675.3,1072.3 Z"/><path class="l" d="M659.9,1102.5 L661.3,1091.3 L661.3,1072.3 Q661.3,1070.8999999999999 668.3,1070.8999999999999 Q675.3,1070.8999999999999 675.3,1072.3 L675.3,1091.3 L676.6999999999999,1102.5"/><path class="l" d="M661.3,1091.3 H675.3"/><path class="kk" style="stroke-width:1.4" d="M662.3,1071.5 H674.3"/>
<path class="wn" d="M719.2,1073 L719.2,1092 L717.8000000000001,1102.8 L733.9,1102.8 L732.5,1092 L732.5,1073 Z"/><path class="l" d="M717.8000000000001,1102 L719.2,1092 L719.2,1073 Q719.2,1071.6 725.85,1071.6 Q732.5,1071.6 732.5,1073 L732.5,1092 L733.9,1102"/><path class="l" d="M719.2,1092 H732.5"/><path class="kk" style="stroke-width:1.4" d="M720.2,1072.2 H731.5"/>
<path class="l" d="M676.6,1099.4 L685.4,1098.8 M676.6,1101.2 L685,1102.2 M701.8,1098.6 Q710,1098.8 717.6,1099.6 M701.8,1101.2 L717.6,1101.6"/>
<path class="kk" style="stroke-width:1.6" d="M704,1105.2 L713,1105.6 L722,1104.6 M707,1102.6 L718,1102.2"/>
<path class="wn" d="M686.3,1077.3 L686.3,1096.3 L684.9,1107.5 L701.6999999999999,1107.5 L700.3,1096.3 L700.3,1077.3 Z"/><path class="l" d="M684.9,1106.7 L686.3,1096.3 L686.3,1077.3 Q686.3,1075.8999999999999 693.3,1075.8999999999999 Q700.3,1075.8999999999999 700.3,1077.3 L700.3,1096.3 L701.6999999999999,1106.7"/><path class="l" d="M686.3,1096.3 H700.3"/><path class="kk" style="stroke-width:1.4" d="M687.3,1076.5 H699.3"/>
<path class="kk" style="stroke-width:1.2" d="M690,1107.6 H696"/>
</g>
<g id="p34">
<path class="hd" d="M664.0,1170.8 L664.0,1172.0 Q664.0,1174.5 668.2,1174.5 Q672.4,1174.5 672.4,1172.0 L672.4,1170.8 Z"/><rect class="k" x="665.5" y="1137.5" width="5.5" height="32.8" rx="0.8"/>
<path class="hd" d="M688.8,1175.5 L688.8,1176.7 Q688.8,1179.2 693.0,1179.2 Q697.2,1179.2 697.2,1176.7 L697.2,1175.5 Z"/><rect class="k" x="690.2" y="1142.0" width="5.5" height="33.0" rx="0.8"/>
<path class="hd" d="M721.5,1171.3 L721.5,1172.5 Q721.5,1175.0 725.7,1175.0 Q729.9,1175.0 729.9,1172.5 L729.9,1171.3 Z"/><rect class="k" x="723.0" y="1138.0" width="5.5" height="32.8" rx="0.8"/>
</g>
<g id="labels" style="opacity:0.999">
<line class="ld" x1="280.0" y1="139.5" x2="348.3" y2="139.5"/>
<text class="t" x="0.0" y="0" transform="translate(252.8,144.4) scale(0.6,1)">1</text>
<line class="ld" x1="427.6" y1="137.0" x2="531.7" y2="137.0"/>
<text class="t" x="0.0" y="0" transform="translate(533.0,143.2) scale(0.6,1)">2</text>
<line class="ld" x1="505.0" y1="209.3" x2="530.0" y2="209.3"/>
<text class="t" x="0.0" y="0" transform="translate(532.4,216.4) scale(0.6,1)">3</text>
<line class="ld" x1="489.6" y1="285.7" x2="530.0" y2="285.7"/>
<text class="t" x="0.0" y="0" transform="translate(533.5,291.0) scale(0.6,1)">4</text>
<line class="ld" x1="472.2" y1="496.9" x2="511.5" y2="496.9"/>
<text class="t" x="0.0" y="0" transform="translate(515.3,504.2) scale(0.6,1)">5</text>
<line class="ld" x1="316.7" y1="496.9" x2="397.3" y2="496.9"/>
<text class="t" x="0.0" y="0" transform="translate(294.7,504.2) scale(0.6,1)">6</text>
<line class="ld" x1="316.7" y1="572.7" x2="393.4" y2="572.7"/>
<text class="t" x="0.0" y="0" transform="translate(295.4,572.0) scale(0.6,1)">7</text>
<line class="ld" x1="316.5" y1="606.3" x2="424.0" y2="606.3"/>
<text class="t" x="0.0" y="0" transform="translate(294.8,618.7) scale(0.6,1)">8</text>
<line class="ld" x1="314.2" y1="675.4" x2="393.3" y2="675.4"/>
<text class="t" x="0.0" y="0" transform="translate(294.8,680.9) scale(0.6,1)">9</text>
<line class="ld" x1="314.2" y1="743.4" x2="397.4" y2="743.4"/>
<text class="t" x="0.0 14.9" y="0" transform="translate(283.5,745.6) scale(0.6,1)">10</text>
<line class="ld" x1="314.2" y1="816.0" x2="390.0" y2="816.0"/>
<text class="t" x="0.0 11.8" y="0" transform="translate(283.5,815.0) scale(0.6,1)">11</text>
<line class="ld" x1="314.2" y1="857.7" x2="422.4" y2="857.7"/>
<text class="t" x="0.0 14.9" y="0" transform="translate(283.7,864.0) scale(0.6,1)">12</text>
<line class="ld" x1="314.2" y1="879.6" x2="421.3" y2="879.6"/>
<text class="t" x="0.0 14.9" y="0" transform="translate(283.7,891.5) scale(0.6,1)">13</text>
<line class="ld" x1="314.2" y1="901.6" x2="431.6" y2="901.6"/>
<text class="t" x="0.0 15.0" y="0" transform="translate(283.7,915.2) scale(0.6,1)">14</text>
<line class="ld" x1="314.2" y1="961.0" x2="412.6" y2="961.0"/>
<text class="t" x="0.0 14.9" y="0" transform="translate(283.7,970.3) scale(0.6,1)">15</text>
<line class="ld" x1="314.2" y1="1067.4" x2="431.0" y2="1067.4"/>
<text class="t" x="0.0 14.7" y="0" transform="translate(283.7,1073.8) scale(0.6,1)">16</text>
<line class="ld" x1="314.2" y1="1115.2" x2="420.6" y2="1115.2"/>
<text class="t" x="0.0 14.8" y="0" transform="translate(283.7,1123.3) scale(0.6,1)">17</text>
<line class="ld" x1="764.0" y1="285.9" x2="822.2" y2="285.9"/>
<text class="t" x="0.0 14.9" y="0" transform="translate(830.0,291.0) scale(0.6,1)">18</text>
<line class="ld" x1="765.0" y1="391.9" x2="812.3" y2="391.9"/>
<text class="t" x="0.0 14.9" y="0" transform="translate(830.0,395.5) scale(0.6,1)">19</text>
<line class="ld" x1="727.0" y1="456.9" x2="805.0" y2="456.9"/>
<text class="t" x="0.0 17.3" y="0" transform="translate(832.0,461.9) scale(0.6,1)">20</text>
<line class="ld" x1="858.9" y1="508.4" x2="917.6" y2="508.4"/>
<text class="t" x="0.0 14.3" y="0" transform="translate(832.0,512.0) scale(0.6,1)">21</text>
<line class="ld" x1="859.3" y1="572.4" x2="915.3" y2="572.4"/>
<text class="t" x="0.0 17.3" y="0" transform="translate(832.0,570.0) scale(0.6,1)">22</text>
<line class="ld" x1="859.3" y1="606.3" x2="915.3" y2="606.3"/>
<text class="t" x="0.0 17.4" y="0" transform="translate(835.6,608.0) scale(0.6,1)">23</text>
<line class="ld" x1="610.6" y1="508.4" x2="656.6" y2="508.4"/>
<text class="t" x="0.0 17.4" y="0" transform="translate(582.6,511.3) scale(0.6,1)">24</text>
<line class="ld" x1="610.6" y1="587.6" x2="642.9" y2="587.6"/>
<text class="t" x="0.0 17.4" y="0" transform="translate(582.6,590.8) scale(0.6,1)">25</text>
<line class="ld" x1="610.6" y1="700.5" x2="661.3" y2="700.5"/>
<text class="t" x="0.0 17.2" y="0" transform="translate(582.6,704.3) scale(0.6,1)">26</text>
<line class="ld" x1="722.0" y1="725.7" x2="822.2" y2="725.7"/>
<text class="t" x="0.0 17.3" y="0" transform="translate(833.2,732.0) scale(0.6,1)">27</text>
<line class="ld" x1="747.3" y1="763.7" x2="822.2" y2="763.7"/>
<text class="t" x="0.0 17.3" y="0" transform="translate(833.2,768.3) scale(0.6,1)">28</text>
<line class="ld" x1="720.6" y1="799.4" x2="822.2" y2="799.4"/>
<text class="t" x="0.0 17.3" y="0" transform="translate(833.2,808.3) scale(0.6,1)">29</text>
<line class="ld" x1="780.4" y1="857.3" x2="823.3" y2="857.3"/>
<text class="t" x="0.0 17.2" y="0" transform="translate(833.1,864.3) scale(0.6,1)">30</text>
<line class="ld" x1="790.0" y1="946.7" x2="822.7" y2="946.7"/>
<text class="t" x="0.0 14.2" y="0" transform="translate(833.1,953.0) scale(0.6,1)">31</text>
<line class="ld" x1="763.0" y1="1030.2" x2="812.7" y2="1030.2"/>
<text class="t" x="0.0 17.2" y="0" transform="translate(824.1,1037.6) scale(0.6,1)">32</text>
<line class="ld" x1="733.4" y1="1091.7" x2="812.7" y2="1091.7"/>
<text class="t" x="0.0 17.3" y="0" transform="translate(824.1,1099.3) scale(0.6,1)">33</text>
<line class="ld" x1="728.6" y1="1152.2" x2="806.0" y2="1152.2"/>
<text class="t" x="0.0 17.3" y="0" transform="translate(824.1,1157.6) scale(0.6,1)">34</text>
</g>
</svg>
</body></html>
